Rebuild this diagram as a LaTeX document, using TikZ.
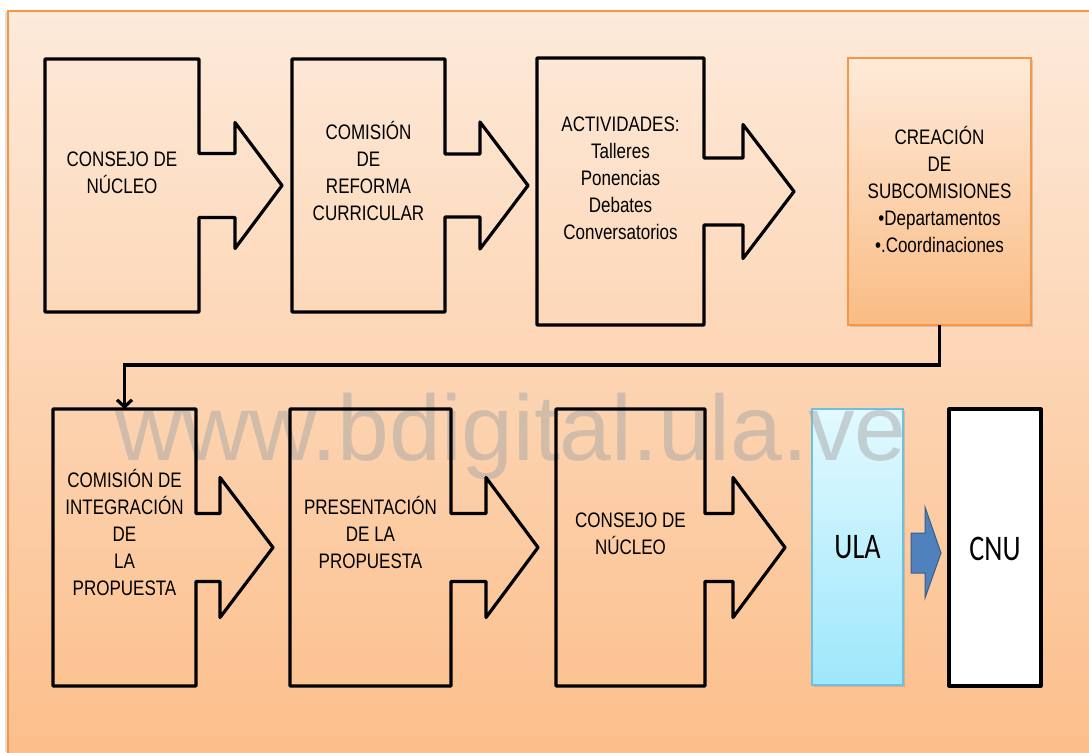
\documentclass[tikz,border=0pt]{standalone}
\usepackage{fontspec}
\setmainfont{Liberation Sans}
\newfontfamily\angosta{Liberation Sans}[FakeStretch=0.81]
\newfontfamily\calibri{Carlito}[FakeStretch=0.78]
\usepackage{tikz}
\usetikzlibrary{arrows.meta,calc,shadows}

\definecolor{fondoarriba}{RGB}{253,234,218}
\definecolor{fondoabajo}{RGB}{252,190,138}
\definecolor{naranja}{RGB}{247,150,70}
\definecolor{cremaarriba}{RGB}{254,234,217}
\definecolor{cremaabajo}{RGB}{250,188,132}
\definecolor{celestearriba}{RGB}{226,249,255}
\definecolor{celesteabajo}{RGB}{158,231,252}
\definecolor{bordeceleste}{RGB}{110,192,222}
\definecolor{azul}{RGB}{79,129,189}
\definecolor{azuloscuro}{RGB}{56,93,138}
\definecolor{marcagris}{RGB}{167,167,167}

% contorno: nodo, medio tallo, media cabeza, largo tallo, largo total
\newcommand{\contorno}[5]{%
  \draw[marco] (#1.north west) -- (#1.north east) -- ([yshift=#2]#1.east)
    -- ([xshift=#4,yshift=#2]#1.east) -- ([xshift=#4,yshift=#3]#1.east)
    -- ([xshift=#5]#1.east)
    -- ([xshift=#4,yshift=-#3]#1.east) -- ([xshift=#4,yshift=-#2]#1.east)
    -- ([yshift=-#2]#1.east) -- (#1.south east) -- (#1.south west) -- cycle;}

\begin{document}
\begin{tikzpicture}[x=1pt,y=-1pt,
  caja/.style={rectangle,inner sep=0pt,outer sep=0pt},
  marco/.style={draw=black,line width=3.2pt,line join=round},
  texto/.style={font=\angosta\fontsize{21}{27}\selectfont,align=center,inner sep=0pt},
  grande/.style={font=\calibri\fontsize{36}{40}\selectfont,inner sep=0pt},
  conector/.style={draw=black,line width=3.2pt,-{Straight Barb[length=7pt,width=15pt]}}]
\useasboundingbox (0,0) rectangle (1089,752);
\draw[gray!25,line width=2pt] (5.5,12) -- (5.5,752);
\shade[top color=fondoarriba,bottom color=fondoabajo,draw=naranja,line width=2pt] (8,11) rectangle (1095,760);

	\node[caja,minimum width=154pt,minimum height=253pt] (consejo) at (122,185.5) {};
	\node[caja,minimum width=153pt,minimum height=253pt] (comision) at (368.5,185.5) {};
	\node[caja,minimum width=167pt,minimum height=267pt] (actividades) at (620.5,191.5) {};
	\node[caja,minimum width=183pt,minimum height=267pt,draw=naranja,line width=1.6pt,
		top color=cremaarriba,bottom color=cremaabajo,
		drop shadow={shadow xshift=1.5pt,shadow yshift=-2pt,opacity=0.3}] (creacion) at (939.5,191.5) {};
	\node[caja,minimum width=143pt,minimum height=277pt] (integracion) at (124.5,547.5) {};
	\node[caja,minimum width=161pt,minimum height=277pt] (presentacion) at (370.5,547.5) {};
	\node[caja,minimum width=149pt,minimum height=277pt] (consejob) at (630.5,547.5) {};
	\node[caja,minimum width=91pt,minimum height=276pt,draw=bordeceleste,line width=1.2pt,
		top color=celestearriba,bottom color=celesteabajo,
		drop shadow={shadow xshift=1.5pt,shadow yshift=-2pt,opacity=0.3}] (ula) at (857.5,547) {};
	\node[caja,minimum width=92pt,minimum height=277pt,fill=white,marco] (cnu) at (995,547.5) {};

	\node[font=\fontsize{93}{93}\selectfont,text=marcagris,text opacity=0.5,
		anchor=base,inner sep=0pt] (marca) at (511,460) {www.bdigital.ula.ve};

	\contorno{consejo}{32pt}{63pt}{36pt}{83pt}
	\contorno{comision}{31.5pt}{63.5pt}{35pt}{83pt}
	\contorno{actividades}{33.5pt}{67pt}{39pt}{90pt}
	\contorno{integracion}{34pt}{70pt}{24pt}{77pt}
	\contorno{presentacion}{34pt}{70pt}{35pt}{87pt}
	\contorno{consejob}{34pt}{70pt}{28pt}{80pt}

	\node[texto] (tconsejo) at ([yshift=13pt]consejo.center) {CONSEJO DE\\NÚCLEO};
	\node[texto] (tcomision) at ([yshift=14.5pt]comision.center) {COMISIÓN\\DE\\REFORMA\\CURRICULAR};
	\node[texto] (tactividades) at ([yshift=13.5pt]actividades.center) {ACTIVIDADES:\\Talleres\\Ponencias\\Debates\\Conversatorios};
	\node[texto] (tcreacion) at ([yshift=2pt]creacion.center) {CREACIÓN\\DE\\SUBCOMISIONES\\•Departamentos\\•.Coordinaciones};
	\node[texto] (tintegracion) at ([yshift=15.5pt]integracion.center) {COMISIÓN DE\\INTEGRACIÓN\\DE\\LA\\PROPUESTA};
	\node[texto] (tpresentacion) at ([yshift=15.5pt]presentacion.center) {PRESENTACIÓN\\DE LA\\PROPUESTA};
	\node[texto] (tconsejob) at ([yshift=14pt]consejob.center) {CONSEJO DE\\NÚCLEO};
	\node[grande] (tula) at (ula.center) {ULA};
	\node[grande] (tcnu) at ([yshift=-1pt]cnu.center) {CNU};

	\draw[conector] (creacion.south) -- ++(0,40) -| (integracion.north);
	\draw[fill=azul,draw=azuloscuro,line width=1pt] (911,533) -- (925,533) -- (925,507)
		-- (941,553) -- (925,598) -- (925,573) -- (911,573) -- cycle;
\end{tikzpicture}
\end{document}
